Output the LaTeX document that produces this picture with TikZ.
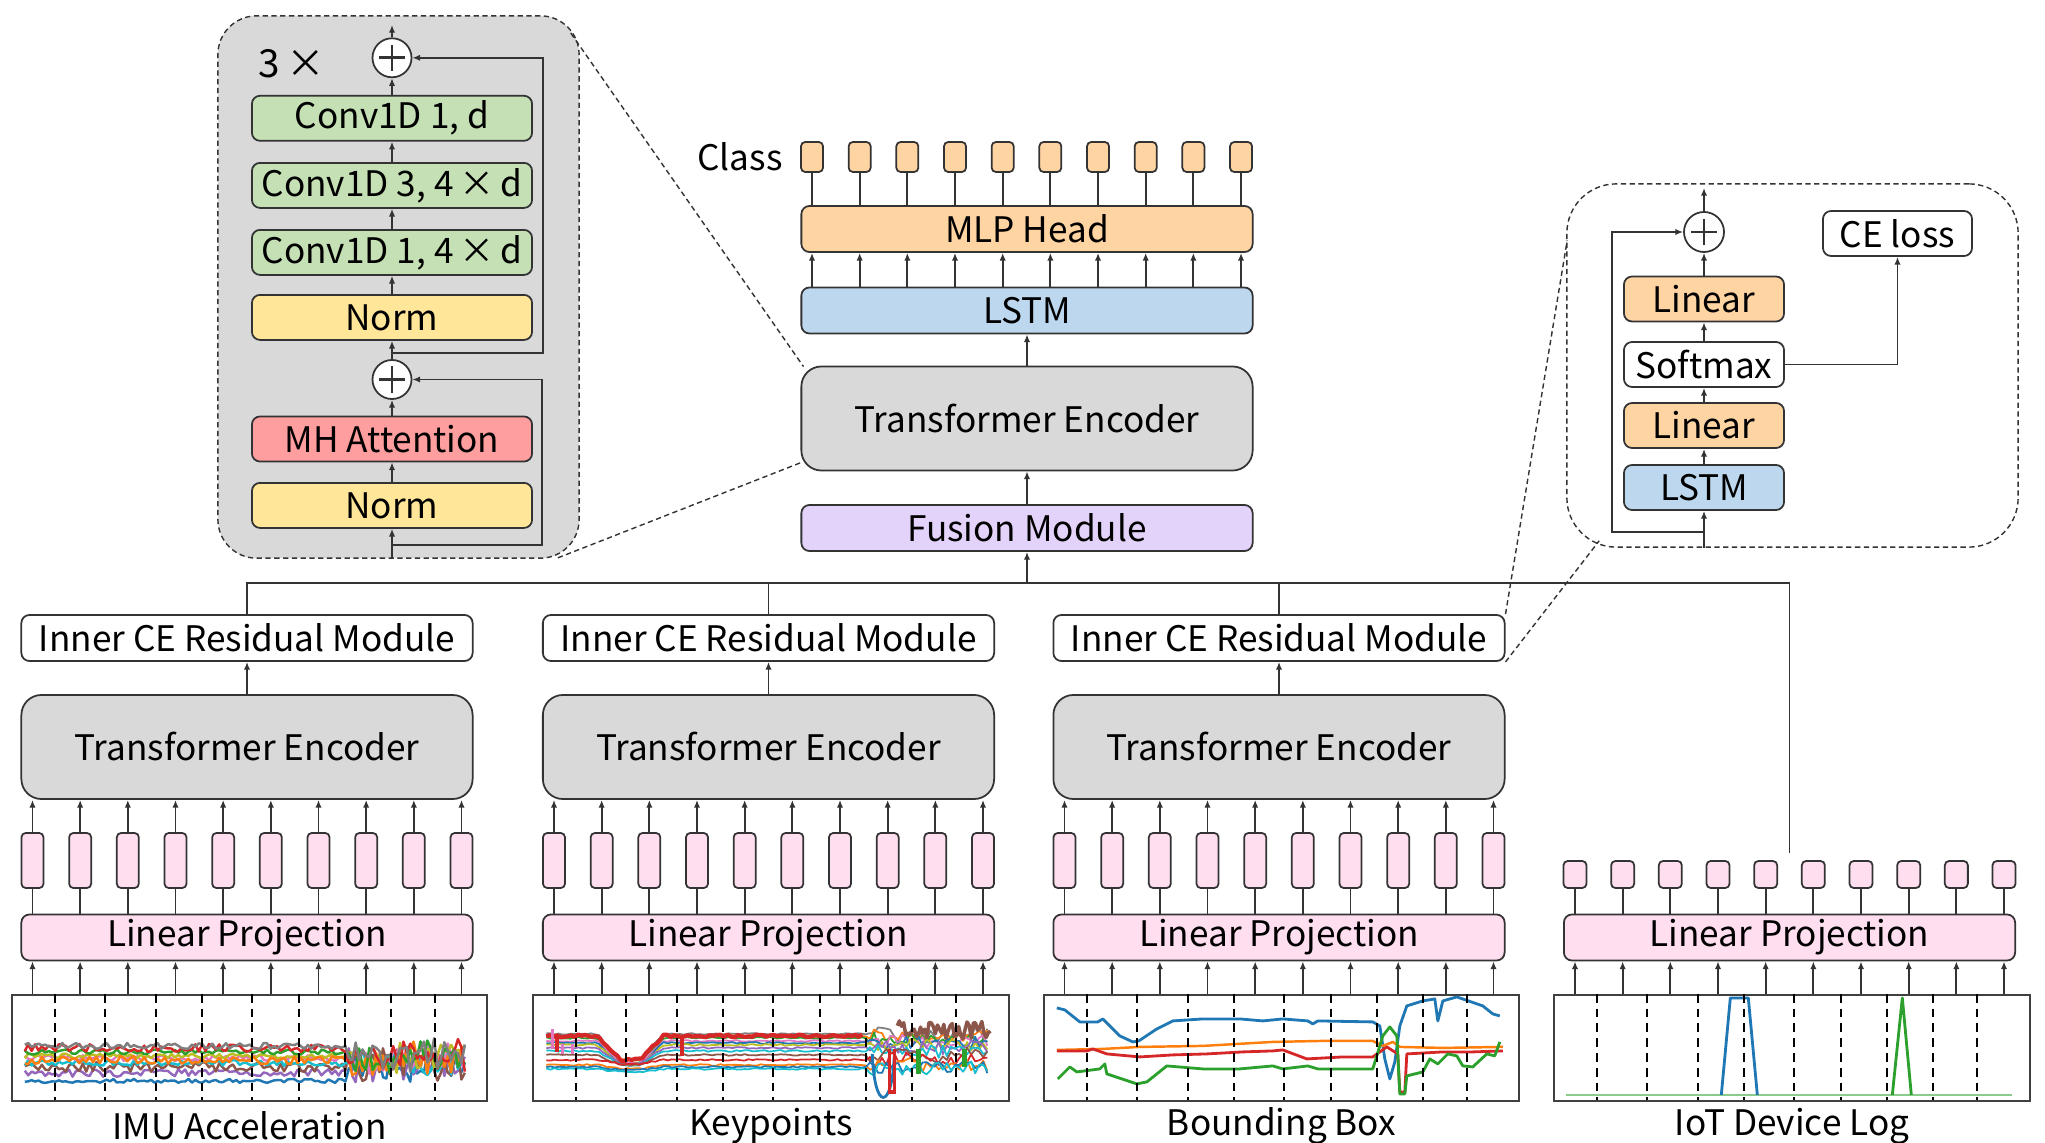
\documentclass[tikz,border=0pt]{standalone}
\usepackage{fontspec}
\setmainfont{Noto Sans CJK JP}
\usepackage{tikz}
\usetikzlibrary{arrows.meta,positioning,calc}

\definecolor{boxgray}{HTML}{D9D9D9}
\definecolor{convgreen}{HTML}{C5E0B4}
\definecolor{normyellow}{HTML}{FFE699}
\definecolor{attnred}{HTML}{FF9E9E}
\definecolor{headorange}{HTML}{FFD4A3}
\definecolor{lstmblue}{HTML}{BDD7EE}
\definecolor{fusepurple}{HTML}{E3D3FA}
\definecolor{projpink}{HTML}{FFDEF0}
\definecolor{tabblue}{HTML}{1F77B4}
\definecolor{taborange}{HTML}{FF7F0E}
\definecolor{tabgreen}{HTML}{2CA02C}
\definecolor{tabred}{HTML}{D62728}
\definecolor{tabpurple}{HTML}{9467BD}
\definecolor{tabbrown}{HTML}{8C564B}
\definecolor{tabpink}{HTML}{E377C2}
\definecolor{tabgray}{HTML}{7F7F7F}
\definecolor{tabolive}{HTML}{BCBD22}
\definecolor{tabcyan}{HTML}{17BECF}

\tikzset{
  block/.style={draw=black!80, line width=0.5pt, rounded corners=2.3pt, inner sep=0pt,
    font=\fontsize{10}{12}\selectfont},
  wideblock/.style={block, minimum width=4.51cm, minimum height=0.46cm},
  encoder/.style={wideblock, fill=boxgray, minimum height=1.04cm, rounded corners=5.7pt},
  innerblock/.style={block, minimum width=2.8cm, minimum height=0.45cm},
  ceblock/.style={block, minimum width=1.6cm, minimum height=0.45cm},
  token/.style={draw=black!80, line width=0.5pt, rounded corners=1.2pt, inner sep=0pt, minimum width=0.22cm},
  sumnode/.style={circle, draw=black!80, line width=0.5pt, fill=white, minimum size=0.39cm, inner sep=0pt,
    path picture={\draw[line width=0.8pt]
      ($(path picture bounding box.center)+(-1.3mm,0mm)$) -- ++(2.6mm,0mm)
      ($(path picture bounding box.center)+(0mm,-1.3mm)$) -- ++(0mm,2.6mm);}},
  conn/.style={draw=black!80, line width=0.5pt},
  arr/.style={conn, -{Latex[length=2.2pt,width=1.8pt]}},
  detail/.style={draw=black!80, line width=0.4pt, dash pattern=on 1.5pt off 1pt},
  plotframe/.style={draw=black!75, line width=0.6pt, inner sep=0pt, minimum width=4.75cm, minimum height=1.06cm},
  marker/.style={black, line width=0.55pt, dash pattern=on 2.5pt off 1.7pt},
  caption/.style={font=\fontsize{10}{12}\selectfont},
}

\begin{document}
\begin{tikzpicture}[x=0.01cm, y=-0.01cm]
    \useasboundingbox (0,0) rectangle (2045,1143);

    % Encoder detail (left)
    \node[detail, fill=boxgray, rounded corners=11pt, minimum width=3.61cm, minimum height=5.42cm] (encdetail) at (398.5,287) {};
    \node[innerblock, fill=normyellow] (norm1) at (392,505.4) {Norm};
    \node[innerblock, fill=attnred] (mha) at (392,439) {MH Attention};
    \node[sumnode] (add1) at (392,379.5) {};
    \node[innerblock, fill=normyellow] (norm2) at (392,317.4) {Norm};
    \node[innerblock, fill=convgreen] (conva) at (392,252.4) {Conv1D 1, 4\,×\,d};
    \node[innerblock, fill=convgreen] (convb) at (392,185.4) {Conv1D 3, 4\,×\,d};
    \node[innerblock, fill=convgreen] (convc) at (392,118.3) {Conv1D 1, d};
    \node[sumnode] (add2) at (392,57.8) {};
    \node[font=\fontsize{11}{13}\selectfont] (repeat) at (292,64) {3\,×};
    \coordinate (encout) at (392,25);
    \coordinate (res1) at (392,545.3);
    \coordinate (res2) at (392,353.3);
    \draw[arr] (norm1 |- encdetail.south) -- (norm1);
    \draw[arr] (norm1) -- (mha);
    \draw[arr] (mha) -- (add1);
    \draw[arr] (add1) -- (norm2);
    \draw[arr] (norm2) -- (conva);
    \draw[arr] (conva) -- (convb);
    \draw[arr] (convb) -- (convc);
    \draw[arr] (convc) -- (add2);
    \draw[arr] (add2) -- (encout);
    \draw[arr] (res1) -- ++(150,0) |- (add1.east);
    \draw[arr] (res2) -- ++(151,0) |- (add2.east);

    % Fusion column
    \node[wideblock, fill=fusepurple] (fusion) at (1027,528) {Fusion Module};
    \node[encoder] (fuseenc) at (1027,418.5) {Transformer Encoder};
    \node[wideblock, fill=lstmblue] (lstm) at (1027,310.5) {LSTM};
    \node[wideblock, fill=headorange] (head) at (1027,229) {MLP Head};
    \node[caption, anchor=east] (classlbl) at (795,157) {Class};
    \foreach \k in {0,...,9} {
        \node[token, fill=headorange, minimum height=0.3cm] (cls\k) at ({812+\k*47.67},157) {};
        \draw[conn] (cls\k |- head.north) -- (cls\k);
        \draw[arr] (cls\k |- lstm.north) -- (cls\k |- head.south);
    }
    \draw[arr] (fusion) -- (fuseenc);
    \draw[arr] (fuseenc) -- (lstm);

    % Inner CE residual detail (right)
    \node[detail, fill=white, rounded corners=14pt, minimum width=4.51cm, minimum height=3.63cm] (cedetail) at (1792.5,365.5) {};
    \node[ceblock, fill=lstmblue] (celstm) at (1704,487.5) {LSTM};
    \node[ceblock, fill=headorange] (celin1) at (1704,425.5) {Linear};
    \node[ceblock, fill=white] (cesoft) at (1704,364.5) {Softmax};
    \node[ceblock, fill=headorange] (celin2) at (1704,299) {Linear};
    \node[sumnode, minimum size=0.4cm] (ceadd) at (1704,232) {};
    \node[block, fill=white, minimum width=1.49cm, minimum height=0.45cm] (celoss) at (1897.5,233.5) {CE loss};
    \coordinate (ceout) at (1704,188);
    \coordinate (ceres) at (1704,532);
    \draw[arr] (celstm |- cedetail.south) -- (celstm);
    \draw[arr] (celstm) -- (celin1);
    \draw[arr] (celin1) -- (cesoft);
    \draw[arr] (cesoft) -- (celin2);
    \draw[arr] (celin2) -- (ceadd);
    \draw[arr] (ceadd) -- (ceout);
    \draw[arr] (ceres) -- ++(-92,0) |- (ceadd.west);
    \draw[arr] (cesoft.east) -| (celoss.south);

    % Modality branches
    \foreach \b/\cx/\lbl in {1/247/IMU Acceleration, 2/768.5/Keypoints, 3/1279/Bounding Box} {
        \node[wideblock, fill=white] (ice\b) at (\cx,638) {Inner CE Residual Module};
        \node[encoder] (enc\b) at (\cx,747) {Transformer Encoder};
        \node[wideblock, fill=projpink] (lp\b) at (\cx,937.5) {Linear Projection};
        \node[plotframe] (plot\b) at (\cx+2.5,1048) {};
        \node[caption] (cap\b) at (\cx+2.5,1126) {\lbl};
        \foreach \k in {0,...,9} {
            \node[token, fill=projpink, minimum height=0.55cm] (tok\b\k) at ({\cx+(\k-4.5)*47.67},860.5) {};
            \draw[conn] (tok\b\k |- lp\b.north) -- (tok\b\k);
            \draw[arr] (tok\b\k) -- (tok\b\k |- enc\b.south);
            \draw[arr] (tok\b\k |- plot\b.north) -- (tok\b\k |- lp\b.south);
        }
        \draw[arr] (enc\b) -- (ice\b);
    }

    % IoT branch
    \node[wideblock, fill=projpink] (lp4) at (1789.5,937.5) {Linear Projection};
    \node[plotframe] (plot4) at (1792,1048) {};
    \node[caption] (cap4) at (1792,1126) {IoT Device Log};
    \foreach \k in {0,...,9} {
        \node[token, fill=projpink, minimum width=0.23cm, minimum height=0.27cm] (tok4\k) at ({1789.5+(\k-4.5)*47.67},874.5) {};
        \draw[conn] (tok4\k |- lp4.north) -- (tok4\k);
        \draw[arr] (tok4\k |- plot4.north) -- (tok4\k |- lp4.south);
    }
    \coordinate (iotstem) at (1789.5,853);

    % Bus to fusion
    \coordinate (bus) at (1027,583);
    \draw[conn] (ice1.north) |- (bus) -| (iotstem);
    \draw[conn] (ice2.north) -- (ice2.north |- bus);
    \draw[conn] (ice3.north) -- (ice3.north |- bus);
    \draw[arr] (bus) -- (fusion);

    % Zoom lines
    \draw[detail] ($(encdetail.north east)+(-9,18)$) -- ($(fuseenc.north west)+(3,1)$);
    \draw[detail] ($(encdetail.south east)+(-22,-1)$) -- ($(fuseenc.south west)+(1,-9)$);
    \draw[detail] (ice3.north east) -- ($(cedetail.west)+(1,-125)$);
    \draw[detail] (ice3.south east) -- ($(cedetail.south west)+(33,-7)$);

    % IMU plot
    \begin{scope}[shift={(plot1.north west)}]
        \clip (0,0) rectangle (475,106);
        \pgfmathsetseed{11}
        \foreach \c/\lev/\amp in {tabblue/87/2, tabpurple/79/4, tabbrown/73/5, tabcyan/69/3, tabpink/64/3,
                                  tabolive/62/2.5, taborange/66/4, tabgreen/58/2.5, tabred/54/4, tabgray/52/3} {
            \draw[\c, line width=0.7pt, line join=round] plot[domain=14:454, samples=130]
                (\x, {\lev + \amp*rand + (\x>335)*(66-\lev)*0.6 + (\x>335)*15*rand});
        }
        \foreach \m in {44,94,145,191,241,288,334,380,424} { \draw[marker] (\m,0) -- (\m,106); }
    \end{scope}

    % Keypoints plot
    \begin{scope}[shift={(plot2.north west)}]
        \clip (0,0) rectangle (475,106);
        \pgfmathsetseed{5}
        \foreach \c/\lev/\dip in {tabgray/40/26, taborange/42/24, tabgreen/44/25, tabpink/47/22, tabblue/49/22,
                                  tabolive/51/20, tabpurple/54/16, tabcyan/57/14, tabbrown/61/10, tabred/66/4,
                                  taborange/71/4, tabblue/73/3, tabcyan/75/3} {
            \draw[\c, line width=0.5pt, line join=round] plot[domain=14:455, samples=110]
                (\x, {\lev + \dip*max(0,min(1,(33-abs(\x-98))/23)) + 0.8*rand + (\x>335)*7*rand});
        }
        \draw[tabred, line width=1.2pt, line join=round] plot[domain=14:330, samples=90]
            (\x, {42 + 1.5*rand + 24*max(0,min(1,(33-abs(\x-98))/23))});
        \draw[tabred, line width=1.2pt] (25,42) -- (25,58) (150,42) -- (150,62);
        \draw[tabpink, line width=1pt] (20,35) -- (20,55) (30,50) -- (30,60) (40,50) -- (40,60);
        \draw[tabbrown, line width=1pt, line join=round] plot[domain=365:458, samples=45] (\x, {36+9*rand});
        \draw[tabblue, line width=0.8pt] (340,60) .. controls (342,118) and (360,118) .. (362,60);
        \draw[tabred, line width=1pt] (357,55) -- (357,98) -- (362,98) -- (362,55);
        \draw[tabgreen, line width=1.3pt] (386,55) -- (386,80) (432,55) -- (432,73);
        \foreach \m in {44,94,145,191,241,288,334,380,424} { \draw[marker] (\m,0) -- (\m,106); }
    \end{scope}

    % Bounding box plot
    \begin{scope}[shift={(plot3.north west)}, line join=round]
        \clip (0,0) rectangle (475,106);
        \draw[tabblue, line width=0.8pt] (14,14) -- (22,16) -- (27,20) -- (37,28) -- (55,28) -- (60,25) -- (64,29)
            -- (77,42) -- (90,48) -- (96,47) -- (114,35) -- (130,27) -- (160,25) -- (197,25) -- (220,27) -- (240,25)
            -- (265,27) -- (270,30) -- (275,27) -- (330,28) -- (337,32) -- (342,65) -- (347,85) -- (352,68)
            -- (357,32) -- (364,12) -- (380,7) -- (392,5) -- (395,27) -- (400,7) -- (414,3) -- (440,12)
            -- (450,20) -- (457,22);
        \draw[taborange, line width=0.7pt] (14,56) -- (60,55) -- (97,53) -- (160,52) -- (230,48) -- (280,47)
            -- (330,47) -- (340,52) -- (350,48) -- (357,53) -- (400,54) -- (460,53);
        \draw[tabred, line width=0.8pt] (14,57) -- (44,57) -- (50,55) -- (64,60) -- (97,63) -- (130,61) -- (164,60)
            -- (200,58) -- (230,57) -- (240,56) -- (264,65) -- (300,63) -- (330,63) -- (344,53) -- (355,60)
            -- (357,98) -- (362,98) -- (364,60) -- (400,58) -- (430,58) -- (460,57);
        \draw[tabgreen, line width=0.8pt] (15,85) -- (27,73) -- (34,78) -- (57,75) -- (62,70) -- (64,80) -- (94,90)
            -- (104,88) -- (124,72) -- (160,75) -- (197,75) -- (230,72) -- (240,75) -- (265,72) -- (275,75)
            -- (330,75) -- (340,42) -- (347,33) -- (354,42) -- (357,100) -- (362,100) -- (364,82) -- (380,78)
            -- (387,65) -- (395,70) -- (405,60) -- (414,62) -- (420,72) -- (430,73) -- (444,60) -- (452,62)
            -- (457,48);
        \foreach \m in {44,94,145,191,241,288,334,380,424} { \draw[marker] (\m,0) -- (\m,106); }
    \end{scope}

    % IoT plot
    \begin{scope}[shift={(plot4.north west)}, line join=round]
        \clip (0,0) rectangle (475,106);
        \draw[tabgreen!55, line width=0.8pt] (13,101) -- (459,101);
        \draw[tabblue, line width=0.8pt] (168,101) -- (177,4) -- (195,4) -- (204,101);
        \draw[tabgreen, line width=0.8pt] (339,101) -- (349,4) -- (358,101);
        \foreach \m in {44,94,145,191,241,288,334,380,424} { \draw[marker] (\m,0) -- (\m,106); }
    \end{scope}
\end{tikzpicture}
\end{document}
